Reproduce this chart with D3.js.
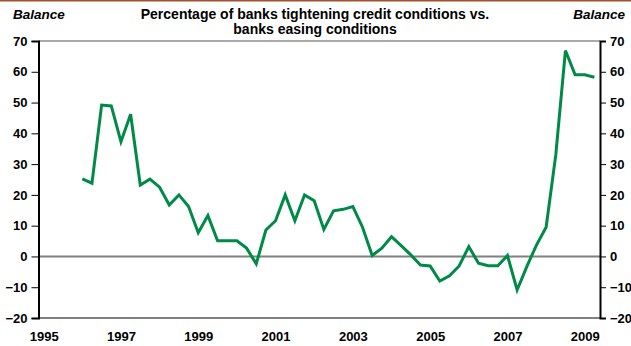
<!DOCTYPE html>
<html>
<head>
<meta charset="utf-8">
<script src="https://cdn.jsdelivr.net/npm/d3@7"></script>
<style>
body { margin: 0; background: #fff; }
text { font-family: "Liberation Sans", Arial, sans-serif; font-weight: bold; fill: #000; }
</style>
</head>
<body>
<script>
// quarterly balance, 1996 Q1 .. 2009 Q2
var startYear = 1996;
var balance = [25.2, 23.8, 49.2, 48.9, 37.3, 46.2, 23.2, 25.1, 22.5, 16.7,
	20.0, 16.2, 7.7, 13.3, 5.1, 5.1, 5.1, 2.7, -2.4, 8.6,
	11.6, 20.0, 11.6, 20.0, 18.1, 8.8, 14.8, 15.3, 16.2, 9.5,
	0.3, 2.7, 6.4, 3.5, 0.5, -2.8, -3.1, -8.0, -6.3, -3.1,
	3.2, -2.2, -3.0, -3.0, 0.3, -10.9, -3.3, 3.7, 9.5, 33.0,
	66.9, 59.0, 59.0, 58.2];
var yearTicks = [1995, 1997, 1999, 2001, 2003, 2005, 2007, 2009];
var valueTicks = [-20, -10, 0, 10, 20, 30, 40, 50, 60, 70];
var titleLines = ["Percentage of banks tightening credit conditions vs.", "banks easing conditions"];

var w = 631, h = 346;
var padL = 38.5, padR = 600, padT = 41, padB = 318;

var svg = d3.select("body").append("svg")
	.attr("width", w)
	.attr("height", h);

var x = d3.scaleLinear().domain([1994.867, 2009.394]).range([padL, padR]);
var y = d3.scaleLinear().domain([-20, 70]).range([padB, padT]);

// brown rule across the top
svg.append("line")
	.attr("x1", 0).attr("x2", w)
	.attr("y1", 0.5).attr("y2", 0.5)
	.attr("stroke", "#a0522d")
	.attr("stroke-width", 2);

// top frame line
svg.append("line")
	.attr("x1", padL).attr("x2", padR)
	.attr("y1", y(70)).attr("y2", y(70))
	.attr("stroke", "#555")
	.attr("stroke-width", 1);

// bottom axis + zero line (grey)
svg.append("line")
	.attr("x1", padL).attr("x2", padR)
	.attr("y1", y(-20)).attr("y2", y(-20))
	.attr("stroke", "#808080")
	.attr("stroke-width", 2);
svg.append("line")
	.attr("x1", padL).attr("x2", padR)
	.attr("y1", y(0)).attr("y2", y(0))
	.attr("stroke", "#808080")
	.attr("stroke-width", 2);

// left and right value axes
var yLeft = svg.append("g")
	.attr("transform", "translate(" + padL + ",0)")
	.call(d3.axisLeft(y).tickValues(valueTicks).tickSize(7).tickPadding(4));
var yRight = svg.append("g")
	.attr("transform", "translate(" + padR + ",0)")
	.call(d3.axisRight(y).tickValues(valueTicks).tickSize(6).tickPadding(4));
[yLeft, yRight].forEach(function(g) {
	g.select(".domain").attr("stroke", "#000").attr("stroke-width", 2);
	g.selectAll(".tick line").attr("stroke", "#000").attr("stroke-width", 1);
	g.selectAll(".tick text")
		.style("font-family", "Liberation Sans, Arial, sans-serif")
		.style("font-weight", "bold")
		.style("font-size", "13px")
		.attr("fill", "#000");
});

// year labels, no tick marks
var xAxis = svg.append("g")
	.attr("transform", "translate(0," + padB + ")")
	.call(d3.axisBottom(x).tickValues(yearTicks).tickFormat(d3.format("d")).tickSize(0).tickPadding(14));
xAxis.select(".domain").remove();
xAxis.selectAll(".tick text")
	.style("font-family", "Liberation Sans, Arial, sans-serif")
	.style("font-weight", "bold")
	.style("font-size", "13px")
	.attr("fill", "#000");

// series
var line = d3.line()
	.x(function(d, i) { return x(startYear + i / 4); })
	.y(function(d) { return y(d); });
svg.append("path")
	.datum(balance)
	.attr("d", line)
	.attr("fill", "none")
	.attr("stroke", "#008a47")
	.attr("stroke-width", 3)
	.attr("stroke-linejoin", "miter");

// titles
svg.append("text")
	.attr("x", 13).attr("y", 18.5)
	.style("font-size", "13.5px")
	.style("font-style", "italic")
	.text("Balance");
svg.append("text")
	.attr("x", 625).attr("y", 18.5)
	.attr("text-anchor", "end")
	.style("font-size", "13.5px")
	.style("font-style", "italic")
	.text("Balance");
svg.selectAll(".title")
	.data(titleLines)
	.enter().append("text")
	.attr("class", "title")
	.attr("x", 315)
	.attr("y", function(d, i) { return 19 + i * 14.5; })
	.attr("text-anchor", "middle")
	.style("font-size", "14px")
	.text(function(d) { return d; });
</script>
</body>
</html>
